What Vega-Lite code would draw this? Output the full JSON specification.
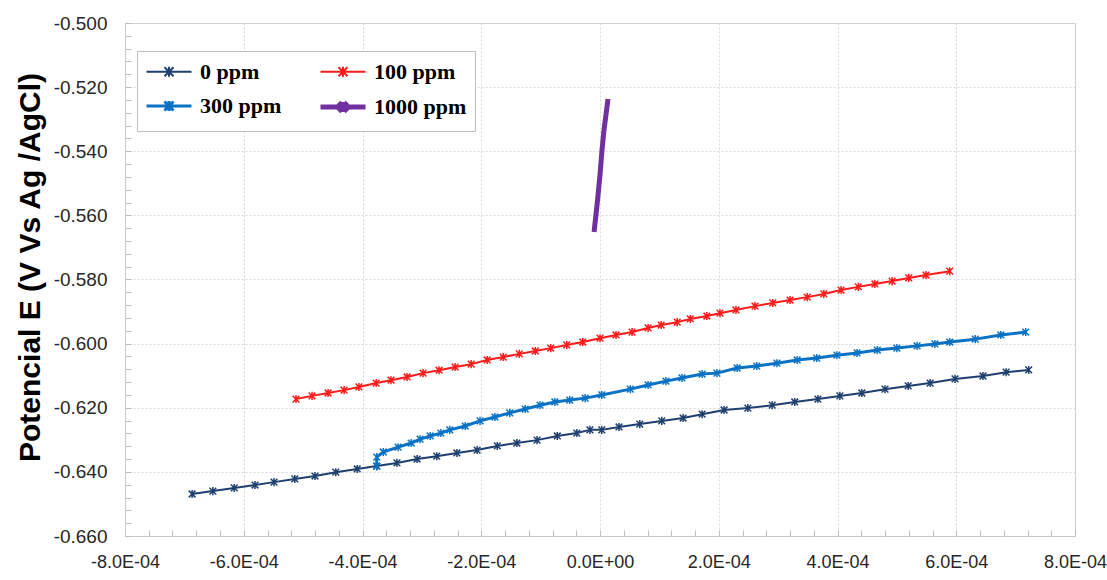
{
  "$schema": "https://vega.github.io/schema/vega-lite/v6.json",
  "width": 950,
  "height": 513,
  "autosize": {"type": "none"},
  "padding": {"left": 125, "top": 23, "right": 32, "bottom": 44},
  "background": "white",
  "config": {
    "view": {"stroke": "#C8C8C8", "strokeWidth": 1},
    "legend": {
      "title": null,
      "orient": "none",
      "legendX": 12,
      "legendY": 28,
      "columns": 2,
      "direction": "horizontal",
      "symbolType": "M-2,0L2,0M-0.4,-0.4L0.4,0.4M-0.4,0.4L0.4,-0.4M0,-0.45L0,0.45",
      "symbolSize": 506,
      "symbolStrokeWidth": 2,
      "symbolOffset": 10,
      "labelFont": "Liberation Serif",
      "labelFontSize": 22,
      "labelFontWeight": "bold",
      "labelColor": "black",
      "labelOffset": 17,
      "labelLimit": 0,
      "columnPadding": 28,
      "rowPadding": 8,
      "padding": 8,
      "strokeColor": "#BFBFBF",
      "fillColor": "white"
    }
  },
  "data": {
    "values": [
      {"s": "0 ppm", "x": -6.87e-4, "y": -0.6469},
      {"s": "0 ppm", "x": -6.52e-4, "y": -0.6460},
      {"s": "0 ppm", "x": -6.16e-4, "y": -0.6450},
      {"s": "0 ppm", "x": -5.81e-4, "y": -0.6441},
      {"s": "0 ppm", "x": -5.49e-4, "y": -0.6432},
      {"s": "0 ppm", "x": -5.14e-4, "y": -0.6422},
      {"s": "0 ppm", "x": -4.80e-4, "y": -0.6413},
      {"s": "0 ppm", "x": -4.45e-4, "y": -0.6401},
      {"s": "0 ppm", "x": -4.09e-4, "y": -0.6391},
      {"s": "0 ppm", "x": -3.76e-4, "y": -0.6382},
      {"s": "0 ppm", "x": -3.42e-4, "y": -0.6372},
      {"s": "0 ppm", "x": -3.08e-4, "y": -0.6360},
      {"s": "0 ppm", "x": -2.75e-4, "y": -0.6351},
      {"s": "0 ppm", "x": -2.41e-4, "y": -0.6341},
      {"s": "0 ppm", "x": -2.07e-4, "y": -0.6332},
      {"s": "0 ppm", "x": -1.73e-4, "y": -0.6319},
      {"s": "0 ppm", "x": -1.40e-4, "y": -0.6310},
      {"s": "0 ppm", "x": -1.06e-4, "y": -0.6301},
      {"s": "0 ppm", "x": -0.72e-4, "y": -0.6288},
      {"s": "0 ppm", "x": -0.39e-4, "y": -0.6279},
      {"s": "0 ppm", "x": -0.17e-4, "y": -0.6269},
      {"s": "0 ppm", "x": 0.03e-4, "y": -0.6269},
      {"s": "0 ppm", "x": 0.32e-4, "y": -0.6260},
      {"s": "0 ppm", "x": 0.67e-4, "y": -0.6251},
      {"s": "0 ppm", "x": 1.04e-4, "y": -0.6241},
      {"s": "0 ppm", "x": 1.40e-4, "y": -0.6232},
      {"s": "0 ppm", "x": 1.72e-4, "y": -0.6220},
      {"s": "0 ppm", "x": 2.09e-4, "y": -0.6207},
      {"s": "0 ppm", "x": 2.49e-4, "y": -0.6201},
      {"s": "0 ppm", "x": 2.90e-4, "y": -0.6192},
      {"s": "0 ppm", "x": 3.28e-4, "y": -0.6182},
      {"s": "0 ppm", "x": 3.67e-4, "y": -0.6173},
      {"s": "0 ppm", "x": 4.04e-4, "y": -0.6163},
      {"s": "0 ppm", "x": 4.41e-4, "y": -0.6154},
      {"s": "0 ppm", "x": 4.80e-4, "y": -0.6142},
      {"s": "0 ppm", "x": 5.19e-4, "y": -0.6132},
      {"s": "0 ppm", "x": 5.56e-4, "y": -0.6123},
      {"s": "0 ppm", "x": 5.98e-4, "y": -0.6110},
      {"s": "0 ppm", "x": 6.45e-4, "y": -0.6101},
      {"s": "0 ppm", "x": 6.84e-4, "y": -0.6089},
      {"s": "0 ppm", "x": 7.22e-4, "y": -0.6082},

      {"s": "100 ppm", "x": -5.12e-4, "y": -0.6173},
      {"s": "100 ppm", "x": -4.85e-4, "y": -0.6163},
      {"s": "100 ppm", "x": -4.58e-4, "y": -0.6154},
      {"s": "100 ppm", "x": -4.31e-4, "y": -0.6145},
      {"s": "100 ppm", "x": -4.06e-4, "y": -0.6135},
      {"s": "100 ppm", "x": -3.77e-4, "y": -0.6123},
      {"s": "100 ppm", "x": -3.52e-4, "y": -0.6114},
      {"s": "100 ppm", "x": -3.25e-4, "y": -0.6104},
      {"s": "100 ppm", "x": -2.98e-4, "y": -0.6092},
      {"s": "100 ppm", "x": -2.71e-4, "y": -0.6083},
      {"s": "100 ppm", "x": -2.44e-4, "y": -0.6073},
      {"s": "100 ppm", "x": -2.17e-4, "y": -0.6064},
      {"s": "100 ppm", "x": -1.90e-4, "y": -0.6051},
      {"s": "100 ppm", "x": -1.63e-4, "y": -0.6042},
      {"s": "100 ppm", "x": -1.36e-4, "y": -0.6032},
      {"s": "100 ppm", "x": -1.09e-4, "y": -0.6023},
      {"s": "100 ppm", "x": -0.83e-4, "y": -0.6014},
      {"s": "100 ppm", "x": -0.56e-4, "y": -0.6004},
      {"s": "100 ppm", "x": -0.29e-4, "y": -0.5995},
      {"s": "100 ppm", "x": 0.00e-4, "y": -0.5983},
      {"s": "100 ppm", "x": 0.27e-4, "y": -0.5973},
      {"s": "100 ppm", "x": 0.54e-4, "y": -0.5964},
      {"s": "100 ppm", "x": 0.81e-4, "y": -0.5951},
      {"s": "100 ppm", "x": 1.03e-4, "y": -0.5942},
      {"s": "100 ppm", "x": 1.30e-4, "y": -0.5933},
      {"s": "100 ppm", "x": 1.52e-4, "y": -0.5923},
      {"s": "100 ppm", "x": 1.80e-4, "y": -0.5914},
      {"s": "100 ppm", "x": 2.02e-4, "y": -0.5905},
      {"s": "100 ppm", "x": 2.29e-4, "y": -0.5895},
      {"s": "100 ppm", "x": 2.61e-4, "y": -0.5883},
      {"s": "100 ppm", "x": 2.91e-4, "y": -0.5873},
      {"s": "100 ppm", "x": 3.20e-4, "y": -0.5864},
      {"s": "100 ppm", "x": 3.49e-4, "y": -0.5855},
      {"s": "100 ppm", "x": 3.77e-4, "y": -0.5845},
      {"s": "100 ppm", "x": 4.06e-4, "y": -0.5833},
      {"s": "100 ppm", "x": 4.35e-4, "y": -0.5823},
      {"s": "100 ppm", "x": 4.63e-4, "y": -0.5814},
      {"s": "100 ppm", "x": 4.92e-4, "y": -0.5805},
      {"s": "100 ppm", "x": 5.20e-4, "y": -0.5795},
      {"s": "100 ppm", "x": 5.49e-4, "y": -0.5786},
      {"s": "100 ppm", "x": 5.89e-4, "y": -0.5774},

      {"s": "300 ppm", "x": -3.76e-4, "y": -0.6382},
      {"s": "300 ppm", "x": -3.76e-4, "y": -0.6354},
      {"s": "300 ppm", "x": -3.65e-4, "y": -0.6338},
      {"s": "300 ppm", "x": -3.40e-4, "y": -0.6323},
      {"s": "300 ppm", "x": -3.18e-4, "y": -0.6310},
      {"s": "300 ppm", "x": -3.03e-4, "y": -0.6298},
      {"s": "300 ppm", "x": -2.86e-4, "y": -0.6288},
      {"s": "300 ppm", "x": -2.68e-4, "y": -0.6279},
      {"s": "300 ppm", "x": -2.53e-4, "y": -0.6269},
      {"s": "300 ppm", "x": -2.27e-4, "y": -0.6257},
      {"s": "300 ppm", "x": -2.02e-4, "y": -0.6241},
      {"s": "300 ppm", "x": -1.77e-4, "y": -0.6229},
      {"s": "300 ppm", "x": -1.52e-4, "y": -0.6216},
      {"s": "300 ppm", "x": -1.26e-4, "y": -0.6204},
      {"s": "300 ppm", "x": -1.01e-4, "y": -0.6192},
      {"s": "300 ppm", "x": -0.76e-4, "y": -0.6182},
      {"s": "300 ppm", "x": -0.51e-4, "y": -0.6176},
      {"s": "300 ppm", "x": -0.25e-4, "y": -0.6170},
      {"s": "300 ppm", "x": 0.03e-4, "y": -0.6160},
      {"s": "300 ppm", "x": 0.51e-4, "y": -0.6142},
      {"s": "300 ppm", "x": 0.81e-4, "y": -0.6129},
      {"s": "300 ppm", "x": 1.11e-4, "y": -0.6117},
      {"s": "300 ppm", "x": 1.38e-4, "y": -0.6107},
      {"s": "300 ppm", "x": 1.72e-4, "y": -0.6095},
      {"s": "300 ppm", "x": 1.97e-4, "y": -0.6092},
      {"s": "300 ppm", "x": 2.31e-4, "y": -0.6076},
      {"s": "300 ppm", "x": 2.64e-4, "y": -0.6070},
      {"s": "300 ppm", "x": 2.98e-4, "y": -0.6061},
      {"s": "300 ppm", "x": 3.32e-4, "y": -0.6051},
      {"s": "300 ppm", "x": 3.65e-4, "y": -0.6045},
      {"s": "300 ppm", "x": 3.99e-4, "y": -0.6036},
      {"s": "300 ppm", "x": 4.33e-4, "y": -0.6029},
      {"s": "300 ppm", "x": 4.67e-4, "y": -0.6020},
      {"s": "300 ppm", "x": 5.00e-4, "y": -0.6014},
      {"s": "300 ppm", "x": 5.34e-4, "y": -0.6007},
      {"s": "300 ppm", "x": 5.64e-4, "y": -0.6001},
      {"s": "300 ppm", "x": 5.89e-4, "y": -0.5995},
      {"s": "300 ppm", "x": 6.32e-4, "y": -0.5986},
      {"s": "300 ppm", "x": 6.75e-4, "y": -0.5973},
      {"s": "300 ppm", "x": 7.17e-4, "y": -0.5964},

      {"s": "1000 ppm", "x": -0.10e-4, "y": -0.5652},
      {"s": "1000 ppm", "x": -0.05e-4, "y": -0.5568},
      {"s": "1000 ppm", "x": 0.00e-4, "y": -0.5474},
      {"s": "1000 ppm", "x": 0.034e-4, "y": -0.5396},
      {"s": "1000 ppm", "x": 0.067e-4, "y": -0.5334},
      {"s": "1000 ppm", "x": 0.10e-4, "y": -0.5287},
      {"s": "1000 ppm", "x": 0.135e-4, "y": -0.5237}
    ]
  },
  "layer": [
    {
      "mark": {"type": "line", "strokeCap": "butt", "strokeJoin": "round"},
      "encoding": {
        "x": {
          "field": "x", "type": "quantitative",
          "scale": {"domain": [-0.0008, 0.0008], "nice": false, "zero": false},
          "axis": {
            "orient": "bottom",
            "values": [-0.0008, -0.0006, -0.0004, -0.0002, 0, 0.0002, 0.0004, 0.0006, 0.0008],
            "labelExpr": "datum.value == 0 ? '0.0E+00' : replace(replace(upper(format(datum.value, '.1e')), 'E-4', 'E-04'), '\u2212', '-')",
            "ticks": false,
            "grid": true, "gridDash": [2, 2], "gridColor": "#D9D9D9",
            "domainColor": "#C8C8C8",
            "labelFont": "Liberation Sans",
            "labelFontSize": 18, "labelColor": "#262626",
            "labelPadding": 17, "labelFlush": false,
            "title": null
          }
        },
        "y": {
          "field": "y", "type": "quantitative",
          "scale": {"domain": [-0.66, -0.5], "nice": false, "zero": false},
          "axis": {
            "orient": "left",
            "values": [-0.66, -0.64, -0.62, -0.6, -0.58, -0.56, -0.54, -0.52, -0.5],
            "labelExpr": "replace(format(datum.value, '.3f'), '\u2212', '-')",
            "ticks": false,
            "grid": true, "gridDash": [2, 2], "gridColor": "#D9D9D9",
            "domainColor": "#C8C8C8",
            "labelFont": "Liberation Sans",
            "labelFontSize": 19, "labelColor": "#262626",
            "labelPadding": 18, "labelFlush": false,
            "title": "Potencial E (V Vs Ag /AgCl)",
            "titleFont": "Liberation Sans", "titleFontSize": 30, "titleFontWeight": "bold",
            "titleColor": "black",
            "titleAngle": -90, "titleX": -95, "titleY": 244,
            "titleAlign": "center", "titleBaseline": "middle"
          }
        },
        "color": {
          "field": "s", "type": "nominal",
          "scale": {"domain": ["0 ppm", "100 ppm", "300 ppm", "1000 ppm"], "range": ["#1F3F6E", "#FF1A1A", "#0A72C4", "#7030A0"]},
          "legend": {
            "encode": {
              "symbols": {
                "update": {
                  "fill": {"value": "transparent"},
                  "strokeWidth": {"signal": "datum.value === '1000 ppm' ? 5 : datum.value === '300 ppm' ? 3.5 : 1.8"}
                }
              }
            }
          }
        },
        "strokeWidth": {
          "field": "s", "type": "ordinal",
          "scale": {"type": "ordinal", "domain": ["0 ppm", "100 ppm", "300 ppm", "1000 ppm"], "range": [2, 2, 3, 5]},
          "legend": null
        },
        "order": {"value": null}
      }
    },
    {
      "transform": [{"filter": "datum.s !== '1000 ppm'"}],
      "mark": {"type": "point", "shape": "M-1,-1L1,1M-1,1L1,-1M0,-1.2L0,1.2", "filled": false, "size": 45, "strokeWidth": 1.5, "opacity": 1},
      "encoding": {
        "x": {
          "field": "x", "type": "quantitative",
          "axis": {
            "orient": "bottom",
            "values": [-0.0008, -0.00076, -0.00072, -0.00068, -0.00064, -0.0006, -0.00056, -0.00052, -0.00048, -0.00044, -0.0004, -0.00036, -0.00032, -0.00028, -0.00024, -0.0002, -0.00016, -0.00012, -0.00008, -0.00004, 0, 0.00004, 0.00008, 0.00012, 0.00016, 0.0002, 0.00024, 0.00028, 0.00032, 0.00036, 0.0004, 0.00044, 0.00048, 0.00052, 0.00056, 0.0006, 0.00064, 0.00068, 0.00072, 0.00076, 0.0008],
            "labels": false, "grid": false, "domain": false,
            "tickSize": -6, "tickColor": "#BFBFBF", "title": null
          }
        },
        "y": {
          "field": "y", "type": "quantitative",
          "axis": {
            "orient": "left",
            "values": [-0.66, -0.656, -0.652, -0.648, -0.644, -0.64, -0.636, -0.632, -0.628, -0.624, -0.62, -0.616, -0.612, -0.608, -0.604, -0.6, -0.596, -0.592, -0.588, -0.584, -0.58, -0.576, -0.572, -0.568, -0.564, -0.56, -0.556, -0.552, -0.548, -0.544, -0.54, -0.536, -0.532, -0.528, -0.524, -0.52, -0.516, -0.512, -0.508, -0.504, -0.5],
            "labels": false, "grid": false, "domain": false,
            "tickSize": -6, "tickColor": "#BFBFBF", "title": null
          }
        },
        "color": {"field": "s", "type": "nominal"}
      }
    }
  ],
  "resolve": {"axis": {"x": "independent", "y": "independent"}}
}
